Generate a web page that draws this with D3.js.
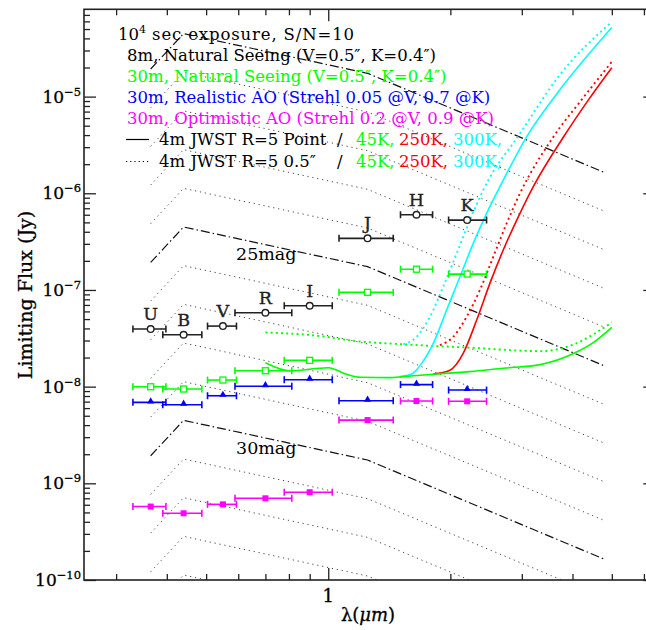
<!DOCTYPE html>
<html>
<head>
<meta charset="utf-8">
<script src="https://cdn.jsdelivr.net/npm/d3@7"></script>
<style>
  body { margin: 0; background: #fff; }
  text { font-family: "DejaVu Serif", serif; white-space: pre; }
</style>
</head>
<body>
<script>
// broad-band limits, one value per band
var bands = ["U", "B", "V", "R", "I", "J", "H", "K"];
var bandWave = [0.365, 0.44, 0.55, 0.70, 0.90, 1.25, 1.65, 2.2];
var bandLo = [0.330, 0.391, 0.504, 0.589, 0.779, 1.063, 1.507, 1.98];
var bandHi = [0.398, 0.488, 0.594, 0.813, 1.023, 1.446, 1.808, 2.456];

var flux8mSeeing = [3.94e-8, 3.44e-8, 4.23e-8, 5.81e-8, 6.87e-8, 3.42e-7, 6.0e-7, 5.28e-7];
var flux30mSeeing = [9.97e-9, 9.45e-9, 1.17e-8, 1.46e-8, 1.87e-8, 9.45e-8, 1.64e-7, 1.46e-7];
var flux30mRealAO = [6.88e-9, 6.50e-9, 8.05e-9, 1.01e-8, 1.18e-8, 7.15e-9, 1.05e-8, 9.22e-9];
var flux30mOptAO = [5.75e-10, 4.90e-10, 6.06e-10, 7.0e-10, 8.09e-10, 4.51e-9, 7.10e-9, 7.05e-9];

// constant magnitude tracks (Jy at mag 0)
var magWave = [0.365, 0.44, 1.25, 4.78];
var magZeroJy = [1929, 4482, 1742, 165];
var mags = [20, 21, 22, 23, 24, 25, 26, 27, 28, 29, 30, 31, 32, 33, 34];
var magDashed = [20, 25, 30];

// JWST R=5 limits, [lambda um, flux Jy]
var jwst45Point = [[0.70,1.77e-8],[0.805,1.46e-8],[1.0,1.57e-8],[1.11,1.34e-8],[1.20,1.25e-8],[1.42,1.24e-8],
  [1.53,1.27e-8],[1.85,1.35e-8],[2.235,1.43e-8],[2.70,1.55e-8],[3.33,1.69e-8],[4.06,2.24e-8],[4.5,2.85e-8],[5.0,4.10e-8]];
var jwst45Ext = [[0.70,3.64e-8],[0.954,3.34e-8],[1.152,2.98e-8],[1.531,2.74e-8],[2.235,2.53e-8],[3.325,2.33e-8],
  [4.02,2.72e-8],[4.5,3.47e-8],[5.0,4.62e-8]];
var jwst250Point = [[1.815,1.35e-8],[1.995,1.48e-8],[2.151,2.21e-8],[2.322,4.88e-8],[2.503,1.17e-7],[2.70,2.59e-7],
  [2.969,6.20e-7],[3.202,1.17e-6],[3.80,3.82e-6],[4.375,9.2e-6],[5.0,1.99e-5]];
var jwst250Ext = [[1.885,2.69e-8],[2.033,3.28e-8],[2.193,5.28e-8],[2.365,9.98e-8],[2.551,2.20e-7],[2.753,4.88e-7],
  [2.969,9.98e-7],[3.59,3.84e-6],[4.25,9.72e-6],[5.0,2.29e-5]];
var jwst300Point = [[1.50,1.27e-8],[1.606,1.35e-8],[1.699,1.74e-8],[1.815,2.80e-8],[1.958,6.20e-8],[2.112,1.37e-7],
  [2.277,3.03e-7],[2.457,6.20e-7],[2.624,1.08e-6],[3.083,3.84e-6],[3.72,1.17e-5],[5.0,5.18e-5]];
var jwst300Ext = [[1.531,2.74e-8],[1.652,3.28e-8],[1.781,5.28e-8],[1.920,1.08e-7],[2.073,2.39e-7],[2.235,5.28e-7],
  [2.410,1.08e-6],[2.99,4.33e-6],[3.72,1.67e-5],[5.0,5.93e-5]];

var xMinor = [0.3, 0.4, 0.5, 0.6, 0.7, 0.8, 0.9, 2, 3, 4, 5, 6];
var xMajor = [1];
var yMajor = [1e-10, 1e-9, 1e-8, 1e-7, 1e-6, 1e-5];
var yLabels = ["-10", "-9", "-8", "-7", "-6", "-5"];

var W = 646, H = 630;
var pL = 84, pR = 655.3, pT = 9.3, pB = 580;

var x = d3.scaleLog().domain([0.25, 6.4]).range([pL, pR]);
var y = d3.scaleLog().domain([1e-10, 8e-5]).range([pB, pT]);

var svg = d3.select("body").append("svg")
  .attr("width", W).attr("height", H);

svg.append("clipPath").attr("id", "plot")
  .append("rect").attr("x", pL).attr("y", pT)
  .attr("width", pR - pL).attr("height", pB - pT);

var g = svg.append("g").attr("clip-path", "url(#plot)");

// magnitude tracks
var magLine = d3.line().x(function(d) { return x(d[0]); }).y(function(d) { return y(d[1]); });
mags.forEach(function(m) {
  var pts = magWave.map(function(w, i) { return [w, magZeroJy[i] * Math.pow(10, -0.4 * m)]; });
  var dashed = magDashed.indexOf(m) >= 0;
  g.append("path").attr("d", magLine(pts))
    .attr("fill", "none")
    .attr("stroke", dashed ? "#111" : "#444")
    .attr("stroke-width", dashed ? 1.2 : 1)
    .attr("stroke-dasharray", dashed ? "9,3,1.5,3" : "1.2,3.8");
});

// JWST curves
var smooth = d3.line().curve(d3.curveMonotoneX)
  .x(function(d) { return x(d[0]); }).y(function(d) { return y(d[1]); });
var curves = [
  [jwst300Ext, "#00ffff", true], [jwst250Ext, "#ff0000", true], [jwst45Ext, "#00ff00", true],
  [jwst300Point, "#00ffff", false], [jwst250Point, "#ff0000", false], [jwst45Point, "#00ff00", false]
];
curves.forEach(function(c) {
  g.append("path").attr("d", smooth(c[0]))
    .attr("fill", "none").attr("stroke", c[1])
    .attr("stroke-width", c[2] ? 1.9 : 1.6)
    .attr("stroke-dasharray", c[2] ? "2,3.2" : null);
});

// error bars + markers
function errorBars(vals, color) {
  var grp = g.append("g").attr("stroke", color).attr("stroke-width", 1.6).attr("fill", "none");
  vals.forEach(function(v, i) {
    var yy = y(v), x0 = x(bandLo[i]), x1 = x(bandHi[i]);
    grp.append("line").attr("x1", x0).attr("x2", x1).attr("y1", yy).attr("y2", yy);
    grp.append("line").attr("x1", x0).attr("x2", x0).attr("y1", yy - 3.5).attr("y2", yy + 3.5);
    grp.append("line").attr("x1", x1).attr("x2", x1).attr("y1", yy - 3.5).attr("y2", yy + 3.5);
  });
}

errorBars(flux8mSeeing, "#222");
errorBars(flux30mSeeing, "#00ff00");
errorBars(flux30mRealAO, "#0000ff");
errorBars(flux30mOptAO, "#ff00ff");

g.selectAll(".c8").data(flux8mSeeing).enter().append("circle")
  .attr("cx", function(d, i) { return x(bandWave[i]); })
  .attr("cy", function(d) { return y(d); })
  .attr("r", 3.3).attr("fill", "white").attr("stroke", "#222").attr("stroke-width", 1.4);

g.selectAll(".s30").data(flux30mSeeing).enter().append("rect")
  .attr("x", function(d, i) { return x(bandWave[i]) - 3; })
  .attr("y", function(d) { return y(d) - 3; })
  .attr("width", 6).attr("height", 6)
  .attr("fill", "white").attr("stroke", "#00ff00").attr("stroke-width", 1.3);

var tri = d3.symbol().type(d3.symbolTriangle).size(22);
g.selectAll(".t30").data(flux30mRealAO).enter().append("path")
  .attr("d", tri)
  .attr("transform", function(d, i) { return "translate(" + x(bandWave[i]) + "," + (y(d) - 1) + ")"; })
  .attr("fill", "#0000ff");

g.selectAll(".m30").data(flux30mOptAO).enter().append("rect")
  .attr("x", function(d, i) { return x(bandWave[i]) - 3; })
  .attr("y", function(d) { return y(d) - 3; })
  .attr("width", 6).attr("height", 6).attr("fill", "#ff00ff");

// band letters
svg.selectAll(".band").data(bands).enter().append("text")
  .attr("x", function(d, i) { return x(bandWave[i]); })
  .attr("y", function(d, i) { return y(flux8mSeeing[i]) - 9; })
  .attr("text-anchor", "middle").attr("font-size", 17.5)
  .attr("fill", "#222").attr("stroke", "#222").attr("stroke-width", 0.35)
  .text(function(d) { return d; });

svg.append("text").attr("x", 236).attr("y", 260).attr("font-size", 17.5).text("25mag");
svg.append("text").attr("x", 236).attr("y", 454).attr("font-size", 17.5).text("30mag");

// frame and ticks
function ticks(axis, scale, vals, size, tx) {
  svg.append("g").attr("transform", tx)
    .call(axis(scale).tickValues(vals).tickSize(-size).tickFormat(""))
    .call(function(a) { a.select(".domain").remove(); })
    .selectAll("line").attr("stroke", "#222").attr("stroke-width", 1.3);
}
var yMinor = [];
yMajor.forEach(function(d) { [2,3,4,5,6,7,8,9].forEach(function(k) { if (d * k < 8e-5) yMinor.push(d * k); }); });

ticks(d3.axisBottom, x, xMinor, 6, "translate(0," + pB + ")");
ticks(d3.axisBottom, x, xMajor, 12, "translate(0," + pB + ")");
ticks(d3.axisTop, x, xMinor, 6, "translate(0," + pT + ")");
ticks(d3.axisTop, x, xMajor, 12, "translate(0," + pT + ")");
ticks(d3.axisLeft, y, yMinor, 6, "translate(" + pL + ",0)");
ticks(d3.axisLeft, y, yMajor, 12, "translate(" + pL + ",0)");
ticks(d3.axisRight, y, yMinor, 6, "translate(" + pR + ",0)");
ticks(d3.axisRight, y, yMajor, 12, "translate(" + pR + ",0)");

svg.append("rect").attr("x", pL).attr("y", pT)
  .attr("width", pR - pL).attr("height", pB - pT)
  .attr("fill", "none").attr("stroke", "#222").attr("stroke-width", 1.6);

// tick labels
var yl = svg.selectAll(".yl").data(yMajor).enter().append("text")
  .attr("x", 81).attr("y", function(d) { return y(d) + 6; })
  .attr("text-anchor", "end").attr("font-size", 17)
  .attr("stroke", "#000").attr("stroke-width", 0.3);
yl.append("tspan").text("10");
yl.append("tspan").attr("font-size", 11.5).attr("dy", -7)
  .text(function(d, i) { return yLabels[i].replace("-", "\u2212"); });

svg.append("text").attr("x", x(1)).attr("y", 602).attr("text-anchor", "middle")
  .attr("font-size", 18).attr("stroke", "#000").attr("stroke-width", 0.3).text("1");

var xl = svg.append("text").attr("x", 368).attr("y", 621).attr("text-anchor", "middle")
  .attr("font-size", 18).attr("stroke", "#000").attr("stroke-width", 0.3);
xl.append("tspan").text("\u03bb(");
xl.append("tspan").attr("font-style", "italic").text("\u03bcm");
xl.append("tspan").text(")");

svg.append("text").attr("transform", "translate(32,295) rotate(-90)")
  .attr("text-anchor", "middle").attr("font-size", 19)
  .attr("stroke", "#000").attr("stroke-width", 0.3)
  .text("Limiting Flux (Jy)");

// legend
var fs = 16.5;
var t1 = svg.append("text").attr("x", 118).attr("y", 40).attr("font-size", fs);
t1.append("tspan").text("10");
t1.append("tspan").attr("font-size", 11).attr("dy", -7).text("4");
t1.append("tspan").attr("dy", 7).attr("textLength", 208).attr("lengthAdjust", "spacing")
  .text(" sec exposure, S/N=10");

var legendRows = [
  ["8m, Natural Seeing (V=0.5\u2033, K=0.4\u2033)", "#000", 61],
  ["30m, Natural Seeing (V=0.5\u2033, K=0.4\u2033)", "#00ff00", 82],
  ["30m, Realistic AO (Strehl 0.05 @V, 0.7 @K)", "#0000ff", 103],
  ["30m, Optimistic AO (Strehl 0.2 @V, 0.9 @K)", "#ff00ff", 124]
];
legendRows.forEach(function(r) {
  svg.append("text").attr("x", 127).attr("y", r[2]).attr("font-size", fs)
    .attr("fill", r[1]).text(r[0]);
});

[["4m JWST R=5 Point", null, 144.5], ["4m JWST R=5 0.5\u2033", "1.2,3", 166.5]].forEach(function(r) {
  svg.append("line").attr("x1", 126).attr("x2", 149).attr("y1", r[2] - 5).attr("y2", r[2] - 5)
    .attr("stroke", "#000").attr("stroke-width", 1.2).attr("stroke-dasharray", r[1]);
  svg.append("text").attr("x", 159).attr("y", r[2]).attr("font-size", fs).text(r[0]);
  svg.append("text").attr("x", 337).attr("y", r[2]).attr("font-size", fs).text("/");
  svg.append("text").attr("x", 356).attr("y", r[2]).attr("font-size", fs).attr("fill", "#00ff00").text("45K,");
  svg.append("text").attr("x", 399).attr("y", r[2]).attr("font-size", fs).attr("fill", "#ff0000").text("250K,");
  svg.append("text").attr("x", 453).attr("y", r[2]).attr("font-size", fs).attr("fill", "#00ffff").text("300K,");
});
</script>
</body>
</html>
